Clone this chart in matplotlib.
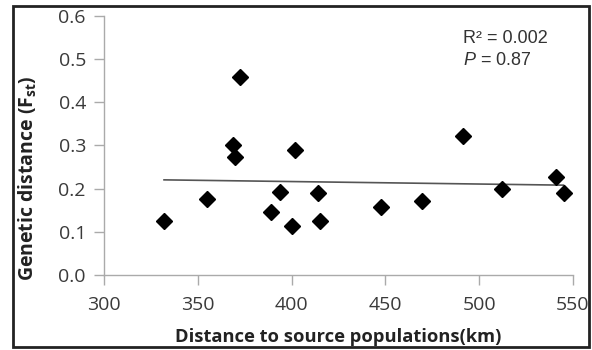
import numpy as np
import matplotlib.pyplot as plt
from matplotlib.patches import Rectangle

plt.rcParams["mathtext.fontset"] = "custom"
plt.rcParams["mathtext.it"] = "Liberation Sans:italic"
plt.rcParams["mathtext.rm"] = "Liberation Sans"

# distance to source populations (km) and genetic distance (Fst)
distance = [332, 355, 369, 370, 372.5, 389, 394, 400, 402, 414, 415,
            447.5, 469.5, 491.5, 512, 541, 545]
fst = [0.125, 0.176, 0.301, 0.274, 0.459, 0.146, 0.192, 0.113, 0.290,
       0.190, 0.125, 0.158, 0.171, 0.322, 0.199, 0.226, 0.189]

x_ticks = [300, 350, 400, 450, 500, 550]
y_ticks = [0.0, 0.1, 0.2, 0.3, 0.4, 0.5, 0.6]

fig = plt.figure(figsize=(5.92, 3.5), dpi=100)
ax = fig.add_axes([0.1757, 0.2143, 0.792, 0.74])

x = np.array(distance)
y = np.array(fst)
slope, intercept = np.polyfit(x, y, 1)
xl = np.array([x.min(), x.max()])
ax.plot(xl, slope * xl + intercept, color="#555555", lw=1.2)
ax.plot(x, y, "D", color="black", markersize=8, linestyle="none")

ax.set_xlim(300, 550)
ax.set_ylim(0, 0.6)
ax.set_xticks(x_ticks)
ax.set_yticks(y_ticks)
ax.set_yticklabels([f"{v:.1f}" for v in y_ticks])

for side in ["top", "right"]:
    ax.spines[side].set_visible(False)
for side in ["left", "bottom"]:
    ax.spines[side].set_color("#aaaaaa")
    ax.spines[side].set_linewidth(1.0)
ax.tick_params(colors="#aaaaaa", labelcolor="#3a3a3a", labelsize=14,
               length=7, direction="out", width=1.0)
ax.tick_params(axis="x", pad=8)
ax.tick_params(axis="y", pad=6)
for lab in ax.get_xticklabels() + ax.get_yticklabels():
    lab.set_family("Open Sans")

ax.set_xlabel("Distance to source populations(km)", fontsize=13.2,
              fontweight="bold", family="Open Sans", color="#222222", labelpad=10)
ax.set_ylabel("Genetic distance (F$_{\\mathregular{st}}$)", fontsize=14,
              fontweight="bold", family="Open Sans", color="#222222")
ax.yaxis.set_label_coords(-0.141, 0.375)

ax.text(0.765, 0.896, "R² = 0.002", transform=ax.transAxes, va="baseline",
        fontsize=13, family="Liberation Sans", color="#333333")
ax.text(0.765, 0.811, "$\\it{P}$ = 0.87", transform=ax.transAxes, va="baseline",
        fontsize=13, family="Liberation Sans", color="#333333")

fig.patches.append(Rectangle((13 / 592, 3 / 350), 576 / 592, 341 / 350,
                             transform=fig.transFigure, fill=False,
                             edgecolor="#222222", linewidth=2))

fig.savefig("out.png", dpi=100)
